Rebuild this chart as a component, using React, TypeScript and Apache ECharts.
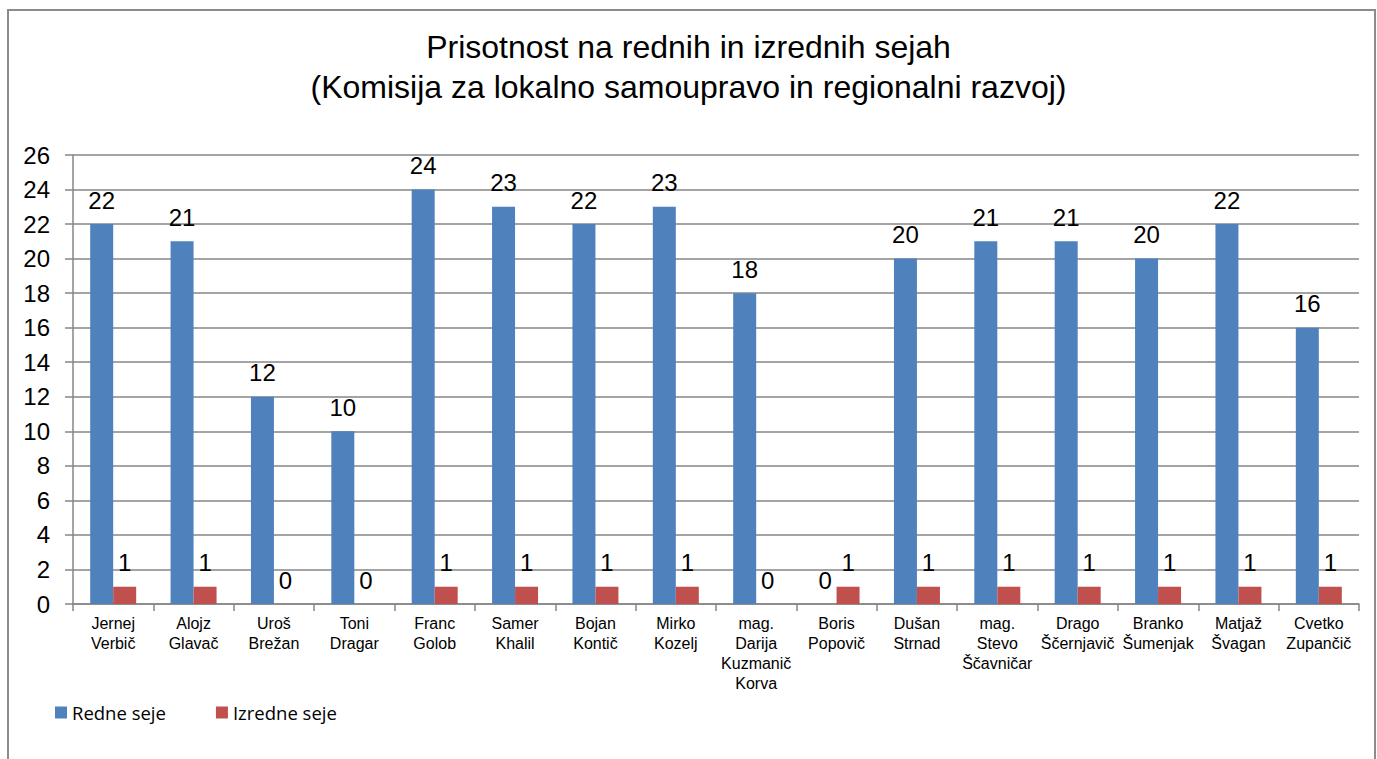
import React, { useEffect, useRef } from "react";
import * as echarts from "echarts";

const categories = [
  "Jernej\nVerbič",
  "Alojz\nGlavač",
  "Uroš\nBrežan",
  "Toni\nDragar",
  "Franc\nGolob",
  "Samer\nKhalil",
  "Bojan\nKontič",
  "Mirko\nKozelj",
  "mag.\nDarija\nKuzmanič\nKorva",
  "Boris\nPopovič",
  "Dušan\nStrnad",
  "mag.\nStevo\nŠčavničar",
  "Drago\nŠčernjavič",
  "Branko\nŠumenjak",
  "Matjaž\nŠvagan",
  "Cvetko\nZupančič",
];
const redneSeje = [22, 21, 12, 10, 24, 23, 22, 23, 18, 0, 20, 21, 21, 20, 22, 16];
const izredneSeje = [1, 1, 0, 0, 1, 1, 1, 1, 0, 1, 1, 1, 1, 1, 1, 1];
const seriesNames = ["Redne seje", "Izredne seje"];
const titleText = "Prisotnost na rednih in izrednih sejah\n(Komisija za lokalno samoupravo in regionalni razvoj)";

export default function App() {
  const ref = useRef<HTMLDivElement>(null);
  useEffect(() => {
    if (!ref.current) return;
    const chart = echarts.init(ref.current, null, { renderer: "svg" });
    const font = "'Liberation Sans', Arial, sans-serif";
    const labelStyle = {
      show: true,
      position: "top" as const,
      distance: 12,
      color: "#000",
      fontSize: 24,
      fontFamily: font,
    };
    chart.setOption({
      animation: false,
      backgroundColor: "#fff",
      title: {
        text: titleText,
        left: "center",
        top: 22,
        textStyle: {
          fontSize: 32,
          fontWeight: "normal",
          color: "#000",
          fontFamily: font,
          lineHeight: 40,
        },
      },
      graphic: [
        {
          type: "rect",
          shape: { x: 8, y: 10, width: 1367, height: 800 },
          style: { fill: "none", stroke: "#8c8c8c", lineWidth: 2 },
          silent: true,
        },
      ],
      legend: {
        left: 50,
        top: 698,
        itemWidth: 12,
        itemHeight: 12,
        itemGap: 50,
        icon: "rect",
        textStyle: { fontSize: 18.5, color: "#000", fontFamily: "'Open Sans', sans-serif" },
        data: seriesNames,
      },
      grid: { left: 73, right: 18, top: 155, bottom: 155, containLabel: false },
      xAxis: {
        type: "category",
        data: categories,
        axisLine: { lineStyle: { color: "#868686", width: 1.5 } },
        axisTick: { show: true, length: 7, lineStyle: { color: "#868686", width: 1.5 } },
        axisLabel: {
          interval: 0,
          margin: 9,
          fontSize: 16,
          lineHeight: 20,
          color: "#000",
          fontFamily: font,
        },
      },
      yAxis: {
        type: "value",
        min: 0,
        max: 26,
        interval: 2,
        axisLine: { show: true, lineStyle: { color: "#868686", width: 1.5 } },
        axisTick: { show: true, length: 8, inside: false, lineStyle: { color: "#868686", width: 1.5 } },
        splitLine: { lineStyle: { color: "#868686", width: 1.5 } },
        axisLabel: {
          margin: 23,
          fontSize: 24,
          color: "#000",
          fontFamily: font,
        },
      },
      series: [
        {
          name: seriesNames[0],
          type: "bar",
          data: redneSeje,
          barWidth: 23,
          barGap: "0%",
          itemStyle: { color: "#4F81BD" },
          label: labelStyle,
        },
        {
          name: seriesNames[1],
          type: "bar",
          data: izredneSeje,
          barWidth: 23,
          barGap: "0%",
          itemStyle: { color: "#C0504D" },
          label: labelStyle,
        },
      ],
    });
    return () => chart.dispose();
  }, []);
  return (
    <div
      ref={ref}
      style={{ position: "absolute", left: 0, top: 0, width: 1377, height: 759 }}
    />
  );
}
